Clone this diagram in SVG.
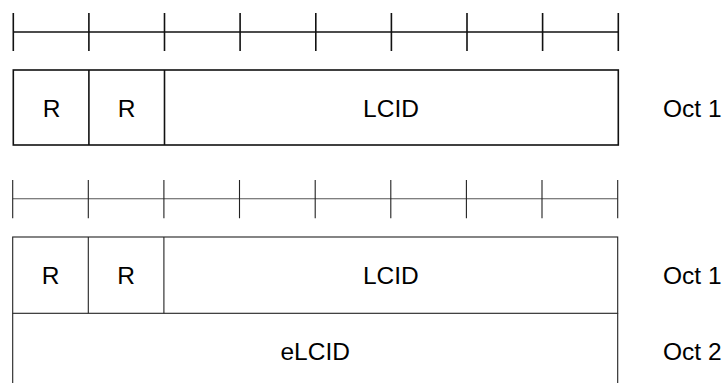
<svg xmlns="http://www.w3.org/2000/svg" width="728" height="383" viewBox="0 0 728 383">
<style>
.t{font-family:"Liberation Sans",Arial,sans-serif;font-size:24.5px;fill:#000}
.m{text-anchor:middle}
.thick{stroke:#111;stroke-width:1.6;fill:none}
.thin{stroke:#222;stroke-width:1.1;fill:none}
.ruler2{stroke:#555;stroke-width:1.1;fill:none}
</style>
<rect width="728" height="383" fill="#fff"/>
<g id="ruler1" class="thick">
<line x1="13.3" y1="32" x2="618.3" y2="32"/>
<path d="M13.3 13V51M88.9 13V51M164.5 13V51M240.1 13V51M315.8 13V51M391.4 13V51M467 13V51M542.6 13V51M618.3 13V51"/>
</g>
<g id="oct1a">
<rect class="thick" x="13.3" y="70" width="605" height="75"/>
<line class="thick" x1="88.9" y1="70" x2="88.9" y2="145"/>
<line class="thick" x1="164.5" y1="70" x2="164.5" y2="145"/>
<text class="t m" x="51.5" y="116.5">R</text>
<text class="t m" x="126.7" y="116.5">R</text>
<text class="t m" x="391" y="116.5">LCID</text>
<text class="t" x="663" y="116.5">Oct 1</text>
</g>
<g id="ruler2">
<line class="ruler2" x1="12.7" y1="198.7" x2="617.7" y2="198.7"/>
<path class="thin" d="M12.7 180V218.3M88.3 180V218.3M163.9 180V218.3M239.5 180V218.3M315.2 180V218.3M390.8 180V218.3M466.4 180V218.3M542 180V218.3M617.7 180V218.3"/>
</g>
<g id="oct1b">
<rect class="thin" x="12.7" y="237" width="605" height="76.3"/>
<line class="thin" x1="88.3" y1="237" x2="88.3" y2="313.3"/>
<line class="thin" x1="163.9" y1="237" x2="163.9" y2="313.3"/>
<text class="t m" x="50.5" y="283.5">R</text>
<text class="t m" x="126.1" y="283.5">R</text>
<text class="t m" x="390.8" y="283.5">LCID</text>
<text class="t" x="663" y="283.5">Oct 1</text>
</g>
<g id="oct2">
<path class="thin" d="M12.7 313.3V395M617.7 313.3V395"/>
<text class="t m" x="315.2" y="359.5">eLCID</text>
<text class="t" x="663" y="359.5">Oct 2</text>
</g>
</svg>
